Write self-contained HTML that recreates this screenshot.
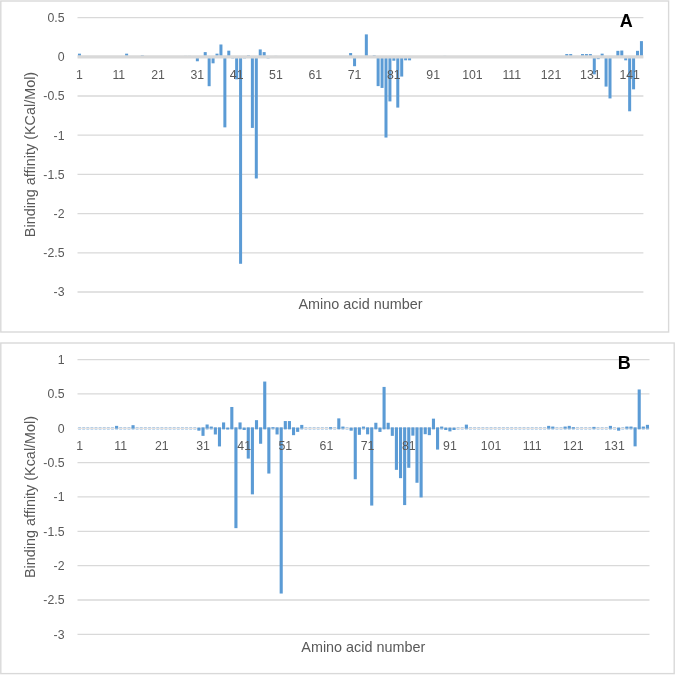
<!DOCTYPE html>
<html><head><meta charset="utf-8"><title>Binding affinity</title>
<style>
html,body{margin:0;padding:0;background:#fff;}
body{width:675px;height:675px;overflow:hidden;}
svg{display:block;}
text{font-family:"Liberation Sans",sans-serif;fill:#595959;}
.t{font-size:12.3px;}
.ax{font-size:14.4px;}
.lab{font-size:18px;font-weight:bold;fill:#000;}
</style></head><body>
<svg width="675" height="675" viewBox="0 0 675 675">
<rect width="675" height="675" fill="#fff"/>

<rect x="0.8" y="1.0" width="667.8000000000001" height="331.0" fill="#fff" stroke="#D9D9D9" stroke-width="1.4"/>
<line x1="77.5" y1="17.60" x2="643.4" y2="17.60" stroke="#D9D9D9" stroke-width="1.3"/>
<line x1="77.5" y1="96.00" x2="643.4" y2="96.00" stroke="#D9D9D9" stroke-width="1.3"/>
<line x1="77.5" y1="135.20" x2="643.4" y2="135.20" stroke="#D9D9D9" stroke-width="1.3"/>
<line x1="77.5" y1="174.40" x2="643.4" y2="174.40" stroke="#D9D9D9" stroke-width="1.3"/>
<line x1="77.5" y1="213.60" x2="643.4" y2="213.60" stroke="#D9D9D9" stroke-width="1.3"/>
<line x1="77.5" y1="252.80" x2="643.4" y2="252.80" stroke="#D9D9D9" stroke-width="1.3"/>
<line x1="77.5" y1="292.00" x2="643.4" y2="292.00" stroke="#D9D9D9" stroke-width="1.3"/>
<g fill="#5B9BD5"><rect x="77.96" y="53.66" width="3.0" height="3.14"/><rect x="81.89" y="56.41" width="3.0" height="0.39"/><rect x="85.82" y="56.17" width="3.0" height="0.63"/><rect x="113.33" y="56.80" width="3.0" height="0.94"/><rect x="125.12" y="53.66" width="3.0" height="3.14"/><rect x="129.05" y="56.41" width="3.0" height="0.39"/><rect x="140.84" y="55.23" width="3.0" height="1.57"/><rect x="180.14" y="56.17" width="3.0" height="0.63"/><rect x="184.07" y="55.86" width="3.0" height="0.94"/><rect x="188.00" y="55.86" width="3.0" height="0.94"/><rect x="191.93" y="56.41" width="3.0" height="0.39"/><rect x="195.86" y="56.80" width="3.0" height="4.47"/><rect x="203.72" y="52.10" width="3.0" height="4.70"/><rect x="207.65" y="56.80" width="3.0" height="29.40"/><rect x="211.58" y="56.80" width="3.0" height="6.51"/><rect x="215.51" y="53.66" width="3.0" height="3.14"/><rect x="219.44" y="44.49" width="3.0" height="12.31"/><rect x="223.37" y="56.80" width="3.0" height="70.56"/><rect x="227.30" y="50.68" width="3.0" height="6.12"/><rect x="231.23" y="56.80" width="3.0" height="1.57"/><rect x="235.16" y="56.80" width="3.0" height="22.50"/><rect x="239.09" y="56.80" width="3.0" height="206.98"/><rect x="243.02" y="56.80" width="3.0" height="1.57"/><rect x="246.95" y="55.23" width="3.0" height="1.57"/><rect x="250.88" y="56.80" width="3.0" height="71.11"/><rect x="254.81" y="56.80" width="3.0" height="121.68"/><rect x="258.74" y="49.43" width="3.0" height="7.37"/><rect x="262.67" y="52.10" width="3.0" height="4.70"/><rect x="266.60" y="56.80" width="3.0" height="1.57"/><rect x="274.46" y="55.86" width="3.0" height="0.94"/><rect x="278.39" y="56.02" width="3.0" height="0.78"/><rect x="349.13" y="53.04" width="3.0" height="3.76"/><rect x="353.06" y="56.80" width="3.0" height="9.41"/><rect x="364.84" y="34.38" width="3.0" height="22.42"/><rect x="368.77" y="56.02" width="3.0" height="0.78"/><rect x="372.70" y="55.23" width="3.0" height="1.57"/><rect x="376.63" y="56.80" width="3.0" height="29.32"/><rect x="380.56" y="56.80" width="3.0" height="31.12"/><rect x="384.49" y="56.80" width="3.0" height="80.75"/><rect x="388.42" y="56.80" width="3.0" height="44.61"/><rect x="392.35" y="56.80" width="3.0" height="3.92"/><rect x="396.28" y="56.80" width="3.0" height="50.80"/><rect x="400.21" y="56.80" width="3.0" height="19.76"/><rect x="404.14" y="56.80" width="3.0" height="3.53"/><rect x="408.07" y="56.80" width="3.0" height="3.53"/><rect x="412.00" y="56.02" width="3.0" height="0.78"/><rect x="443.44" y="55.86" width="3.0" height="0.94"/><rect x="518.11" y="56.02" width="3.0" height="0.78"/><rect x="537.76" y="56.02" width="3.0" height="0.78"/><rect x="545.62" y="56.02" width="3.0" height="0.78"/><rect x="553.48" y="56.80" width="3.0" height="0.78"/><rect x="565.27" y="54.06" width="3.0" height="2.74"/><rect x="569.20" y="54.06" width="3.0" height="2.74"/><rect x="580.99" y="54.06" width="3.0" height="2.74"/><rect x="584.92" y="54.06" width="3.0" height="2.74"/><rect x="588.85" y="54.06" width="3.0" height="2.74"/><rect x="592.78" y="56.80" width="3.0" height="17.56"/><rect x="596.71" y="56.80" width="3.0" height="2.35"/><rect x="600.64" y="53.66" width="3.0" height="3.14"/><rect x="604.57" y="56.80" width="3.0" height="29.79"/><rect x="608.50" y="56.80" width="3.0" height="41.63"/><rect x="616.36" y="50.84" width="3.0" height="5.96"/><rect x="620.29" y="50.53" width="3.0" height="6.27"/><rect x="624.22" y="56.80" width="3.0" height="3.53"/><rect x="628.15" y="56.80" width="3.0" height="54.49"/><rect x="632.08" y="56.80" width="3.0" height="32.54"/><rect x="636.01" y="50.84" width="3.0" height="5.96"/><rect x="639.94" y="41.12" width="3.0" height="15.68"/></g>
<line x1="77.5" y1="56.80" x2="643.4" y2="56.80" stroke="#D9D9D9" stroke-width="3.2"/>
<text class="t" x="64.5" y="21.90" text-anchor="end">0.5</text>
<text class="t" x="64.5" y="61.10" text-anchor="end">0</text>
<text class="t" x="64.5" y="100.30" text-anchor="end">-0.5</text>
<text class="t" x="64.5" y="139.50" text-anchor="end">-1</text>
<text class="t" x="64.5" y="178.70" text-anchor="end">-1.5</text>
<text class="t" x="64.5" y="217.90" text-anchor="end">-2</text>
<text class="t" x="64.5" y="257.10" text-anchor="end">-2.5</text>
<text class="t" x="64.5" y="296.30" text-anchor="end">-3</text>
<text class="t" x="79.46" y="79.0" text-anchor="middle">1</text>
<text class="t" x="118.76" y="79.0" text-anchor="middle">11</text>
<text class="t" x="158.06" y="79.0" text-anchor="middle">21</text>
<text class="t" x="197.36" y="79.0" text-anchor="middle">31</text>
<text class="t" x="236.66" y="79.0" text-anchor="middle">41</text>
<text class="t" x="275.96" y="79.0" text-anchor="middle">51</text>
<text class="t" x="315.26" y="79.0" text-anchor="middle">61</text>
<text class="t" x="354.56" y="79.0" text-anchor="middle">71</text>
<text class="t" x="393.85" y="79.0" text-anchor="middle">81</text>
<text class="t" x="433.15" y="79.0" text-anchor="middle">91</text>
<text class="t" x="472.45" y="79.0" text-anchor="middle">101</text>
<text class="t" x="511.75" y="79.0" text-anchor="middle">111</text>
<text class="t" x="551.05" y="79.0" text-anchor="middle">121</text>
<text class="t" x="590.35" y="79.0" text-anchor="middle">131</text>
<text class="t" x="629.65" y="79.0" text-anchor="middle">141</text>
<text class="ax" x="360.5" y="309.3" text-anchor="middle">Amino acid number</text>
<text class="ax" transform="translate(34.5,154.5) rotate(-90)" text-anchor="middle">Binding affinity (KCal/Mol)</text>
<text class="lab" x="626.2" y="27.4" text-anchor="middle">A</text>
<rect x="0.8" y="343.0" width="673.4000000000001" height="330.6" fill="#fff" stroke="#D9D9D9" stroke-width="1.4"/>
<line x1="77.5" y1="359.60" x2="649.5" y2="359.60" stroke="#D9D9D9" stroke-width="1.3"/>
<line x1="77.5" y1="393.94" x2="649.5" y2="393.94" stroke="#D9D9D9" stroke-width="1.3"/>
<line x1="77.5" y1="462.62" x2="649.5" y2="462.62" stroke="#D9D9D9" stroke-width="1.3"/>
<line x1="77.5" y1="496.96" x2="649.5" y2="496.96" stroke="#D9D9D9" stroke-width="1.3"/>
<line x1="77.5" y1="531.30" x2="649.5" y2="531.30" stroke="#D9D9D9" stroke-width="1.3"/>
<line x1="77.5" y1="565.64" x2="649.5" y2="565.64" stroke="#D9D9D9" stroke-width="1.3"/>
<line x1="77.5" y1="599.98" x2="649.5" y2="599.98" stroke="#D9D9D9" stroke-width="1.3"/>
<line x1="77.5" y1="634.32" x2="649.5" y2="634.32" stroke="#D9D9D9" stroke-width="1.3"/>
<line x1="78.13" y1="427.43" x2="649.5" y2="427.43" stroke="#5B9BD5" stroke-opacity="0.5" stroke-width="1.1" stroke-dasharray="2.85 1.2651"/>
<line x1="78.13" y1="429.23" x2="649.5" y2="429.23" stroke="#5B9BD5" stroke-opacity="0.5" stroke-width="1.1" stroke-dasharray="2.85 1.2651"/>
<line x1="77.5" y1="428.28" x2="649.5" y2="428.28" stroke="#E2D8D2" stroke-width="0.8"/>
<g fill="#5B9BD5"><rect x="115.04" y="425.87" width="3.1" height="2.76"/><rect x="131.50" y="425.18" width="3.1" height="3.45"/><rect x="197.35" y="427.93" width="3.1" height="2.76"/><rect x="201.46" y="427.58" width="3.1" height="8.27"/><rect x="205.58" y="424.50" width="3.1" height="4.13"/><rect x="209.69" y="426.56" width="3.1" height="2.07"/><rect x="213.81" y="427.58" width="3.1" height="6.89"/><rect x="217.92" y="427.58" width="3.1" height="18.84"/><rect x="222.04" y="422.43" width="3.1" height="6.55"/><rect x="226.15" y="427.93" width="3.1" height="1.39"/><rect x="230.27" y="406.98" width="3.1" height="22.00"/><rect x="234.38" y="427.58" width="3.1" height="100.57"/><rect x="238.50" y="422.43" width="3.1" height="6.55"/><rect x="242.61" y="427.93" width="3.1" height="2.07"/><rect x="246.73" y="427.58" width="3.1" height="31.00"/><rect x="250.84" y="427.58" width="3.1" height="66.78"/><rect x="254.96" y="420.16" width="3.1" height="8.82"/><rect x="259.07" y="427.58" width="3.1" height="16.17"/><rect x="263.19" y="381.56" width="3.1" height="47.42"/><rect x="267.30" y="427.58" width="3.1" height="45.97"/><rect x="271.42" y="427.24" width="3.1" height="1.39"/><rect x="275.53" y="427.58" width="3.1" height="6.89"/><rect x="279.65" y="427.58" width="3.1" height="165.96"/><rect x="283.76" y="421.06" width="3.1" height="7.92"/><rect x="287.88" y="421.06" width="3.1" height="7.92"/><rect x="291.99" y="427.58" width="3.1" height="7.58"/><rect x="296.11" y="427.93" width="3.1" height="3.93"/><rect x="300.22" y="424.91" width="3.1" height="3.72"/><rect x="329.03" y="427.24" width="3.1" height="1.39"/><rect x="337.26" y="418.38" width="3.1" height="10.60"/><rect x="341.37" y="426.56" width="3.1" height="2.07"/><rect x="349.60" y="427.93" width="3.1" height="2.76"/><rect x="353.72" y="427.58" width="3.1" height="51.67"/><rect x="357.83" y="427.58" width="3.1" height="7.24"/><rect x="361.95" y="426.56" width="3.1" height="2.07"/><rect x="366.07" y="427.58" width="3.1" height="6.76"/><rect x="370.18" y="427.58" width="3.1" height="77.98"/><rect x="374.30" y="422.77" width="3.1" height="6.21"/><rect x="378.41" y="427.93" width="3.1" height="4.00"/><rect x="382.53" y="386.92" width="3.1" height="42.06"/><rect x="386.64" y="422.77" width="3.1" height="6.21"/><rect x="390.76" y="427.58" width="3.1" height="8.27"/><rect x="394.87" y="427.58" width="3.1" height="42.26"/><rect x="398.99" y="427.58" width="3.1" height="50.57"/><rect x="403.10" y="427.58" width="3.1" height="77.50"/><rect x="407.22" y="427.58" width="3.1" height="40.20"/><rect x="411.33" y="427.58" width="3.1" height="8.06"/><rect x="415.45" y="427.58" width="3.1" height="55.18"/><rect x="419.56" y="427.58" width="3.1" height="69.87"/><rect x="423.68" y="427.58" width="3.1" height="6.62"/><rect x="427.79" y="427.58" width="3.1" height="7.58"/><rect x="431.91" y="418.65" width="3.1" height="10.33"/><rect x="436.02" y="427.58" width="3.1" height="22.00"/><rect x="440.14" y="426.56" width="3.1" height="2.07"/><rect x="444.25" y="427.93" width="3.1" height="2.07"/><rect x="448.37" y="427.93" width="3.1" height="3.45"/><rect x="452.48" y="427.93" width="3.1" height="2.07"/><rect x="464.83" y="424.63" width="3.1" height="4.00"/><rect x="547.13" y="425.87" width="3.1" height="2.76"/><rect x="551.24" y="426.56" width="3.1" height="2.07"/><rect x="563.59" y="426.56" width="3.1" height="2.07"/><rect x="567.71" y="425.87" width="3.1" height="2.76"/><rect x="571.82" y="427.24" width="3.1" height="1.39"/><rect x="592.40" y="426.90" width="3.1" height="1.73"/><rect x="608.86" y="425.87" width="3.1" height="2.76"/><rect x="617.09" y="427.93" width="3.1" height="2.76"/><rect x="625.32" y="426.56" width="3.1" height="2.07"/><rect x="629.43" y="426.56" width="3.1" height="2.07"/><rect x="633.55" y="427.58" width="3.1" height="18.78"/><rect x="637.66" y="389.46" width="3.1" height="39.52"/><rect x="641.78" y="426.56" width="3.1" height="2.07"/><rect x="645.89" y="424.84" width="3.1" height="3.79"/></g>
<text class="t" x="64.5" y="363.90" text-anchor="end">1</text>
<text class="t" x="64.5" y="398.24" text-anchor="end">0.5</text>
<text class="t" x="64.5" y="432.58" text-anchor="end">0</text>
<text class="t" x="64.5" y="466.92" text-anchor="end">-0.5</text>
<text class="t" x="64.5" y="501.26" text-anchor="end">-1</text>
<text class="t" x="64.5" y="535.60" text-anchor="end">-1.5</text>
<text class="t" x="64.5" y="569.94" text-anchor="end">-2</text>
<text class="t" x="64.5" y="604.28" text-anchor="end">-2.5</text>
<text class="t" x="64.5" y="638.62" text-anchor="end">-3</text>
<text class="t" x="79.56" y="450.4" text-anchor="middle">1</text>
<text class="t" x="120.71" y="450.4" text-anchor="middle">11</text>
<text class="t" x="161.86" y="450.4" text-anchor="middle">21</text>
<text class="t" x="203.01" y="450.4" text-anchor="middle">31</text>
<text class="t" x="244.16" y="450.4" text-anchor="middle">41</text>
<text class="t" x="285.31" y="450.4" text-anchor="middle">51</text>
<text class="t" x="326.46" y="450.4" text-anchor="middle">61</text>
<text class="t" x="367.62" y="450.4" text-anchor="middle">71</text>
<text class="t" x="408.77" y="450.4" text-anchor="middle">81</text>
<text class="t" x="449.92" y="450.4" text-anchor="middle">91</text>
<text class="t" x="491.07" y="450.4" text-anchor="middle">101</text>
<text class="t" x="532.22" y="450.4" text-anchor="middle">111</text>
<text class="t" x="573.37" y="450.4" text-anchor="middle">121</text>
<text class="t" x="614.52" y="450.4" text-anchor="middle">131</text>
<text class="ax" x="363.3" y="651.7" text-anchor="middle">Amino acid number</text>
<text class="ax" transform="translate(34.5,497) rotate(-90)" text-anchor="middle">Binding affinity (Kcal/Mol)</text>
<text class="lab" x="624.3" y="369.4" text-anchor="middle">B</text>
</svg></body></html>
